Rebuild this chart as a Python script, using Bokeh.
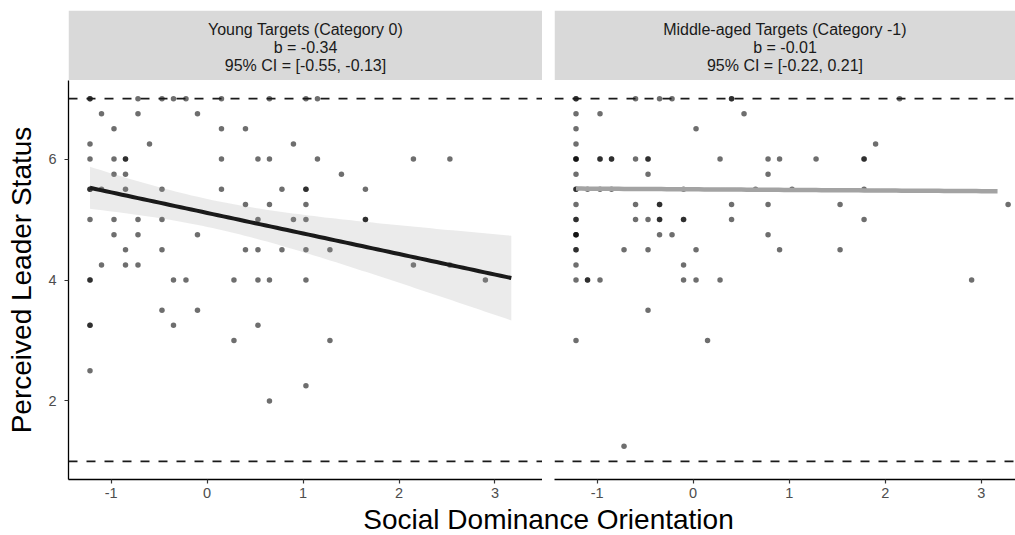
import numpy as np
from bokeh.plotting import figure
from bokeh.models import Range1d, FixedTicker, Span
from bokeh.layouts import row, column, Spacer
from bokeh.core.properties import value
from bokeh.embed import file_html
from bokeh.resources import INLINE

FONT = "Liberation Sans"

# ---- data ---------------------------------------------------------------
# Young targets (category 0): centred SDO score and perceived leader status
young_sdo = [
    -1.22, -1.22, -0.72, -0.47, -0.35, -0.22, 0.15, 0.65, 1.03, 1.15,
    -1.10, -0.72, -0.10,
    -0.97, 0.15, 0.40,
    -1.22, -0.60, 0.90,
    -1.22, -0.97, -0.85, -0.85, 0.15, 0.53, 0.65, 1.15, 2.15, 2.53,
    -0.97, -0.85, 1.40,
    -1.22, -1.22, -1.10, -0.85, -0.47, 0.15, 0.78, 1.03, 1.03, 1.65,
    0.40, 0.65, 1.03,
    -1.22, -0.97, -0.72, -0.47, 0.53, 0.90, 1.03, 1.65, 1.65,
    -0.97, -0.72, -0.10,
    -0.85, -0.47, 0.40, 0.53, 0.78, 1.03, 1.28,
    -1.10, -0.85, -0.72, 2.15, 2.53,
    -1.22, -1.22, -0.35, -0.22, 0.28, 0.53, 0.65, 1.03, 2.90,
    -0.47, -0.10,
    -1.22, -1.22, -0.35, 0.53,
    0.28, 1.28,
    -1.22,
    1.03,
    0.65,
]
young_status = [
    7, 7, 7, 7, 7, 7, 7, 7, 7, 7,
    6.75, 6.75, 6.75,
    6.5, 6.5, 6.5,
    6.25, 6.25, 6.25,
    6, 6, 6, 6, 6, 6, 6, 6, 6, 6,
    5.75, 5.75, 5.75,
    5.5, 5.5, 5.5, 5.5, 5.5, 5.5, 5.5, 5.5, 5.5, 5.5,
    5.25, 5.25, 5.25,
    5, 5, 5, 5, 5, 5, 5, 5, 5,
    4.75, 4.75, 4.75,
    4.5, 4.5, 4.5, 4.5, 4.5, 4.5, 4.5,
    4.25, 4.25, 4.25, 4.25, 4.25,
    4, 4, 4, 4, 4, 4, 4, 4, 4,
    3.5, 3.5,
    3.25, 3.25, 3.25, 3.25,
    3, 3,
    2.5,
    2.25,
    2,
]

# Middle-aged targets (category -1)
middle_sdo = [
    -1.22, -1.22, -0.60, -0.35, -0.22, 0.40, 0.40, 2.15,
    -1.22, -0.97, 0.53,
    -1.22, 0.03,
    -1.22, 1.90,
    -1.22, -1.22, -1.22, -0.97, -0.97, -0.85, -0.85, -0.60, -0.47, -0.47,
    0.28, 0.78, 0.90, 1.28, 1.78, 1.78,
    -1.22, -0.47, 0.78,
    -1.22, -1.22, -1.10, -0.97, -0.85, -0.10, 0.65, 1.03, 1.78,
    -1.22, -0.60, -0.35, -0.35, 0.40, 0.78, 1.53, 3.28,
    -1.22, -1.22, -0.60, -0.47, -0.35, -0.35, -0.10, -0.10, 0.40, 1.78,
    -1.22, -1.22, -1.22, -0.35, -0.22, 0.78,
    -1.22, -1.22, -0.72, -0.47, 0.03, 0.90, 1.53,
    -1.22, -0.10,
    -1.22, -1.10, -1.10, -0.97, -0.10, 0.03, 0.28, 2.90,
    -0.47,
    -1.22, 0.15,
    -0.72,
]
middle_status = [
    7, 7, 7, 7, 7, 7, 7, 7,
    6.75, 6.75, 6.75,
    6.5, 6.5,
    6.25, 6.25,
    6, 6, 6, 6, 6, 6, 6, 6, 6, 6,
    6, 6, 6, 6, 6, 6,
    5.75, 5.75, 5.75,
    5.5, 5.5, 5.5, 5.5, 5.5, 5.5, 5.5, 5.5, 5.5,
    5.25, 5.25, 5.25, 5.25, 5.25, 5.25, 5.25, 5.25,
    5, 5, 5, 5, 5, 5, 5, 5, 5, 5,
    4.75, 4.75, 4.75, 4.75, 4.75, 4.75,
    4.5, 4.5, 4.5, 4.5, 4.5, 4.5, 4.5,
    4.25, 4.25,
    4, 4, 4, 4, 4, 4, 4, 4,
    3.5,
    3, 3,
    1.25,
]

# simple-slope estimates per target group
panel_names = ["Young Targets (Category 0)", "Middle-aged Targets (Category -1)"]
slopes = [-0.34, -0.01]
slope_cis = [(-0.55, -0.13), (-0.22, 0.21)]
intercepts = [5.11, 5.50]          # predicted status at SDO = 0
fit_range = (-1.22, 3.17)          # SDO span of the fitted lines
young_se_mean = 0.1165             # SE of the predicted mean at the SDO mean
young_sdo_mean = 0.02
t_crit = 1.98

scale_limits = [1, 7]              # response-scale bounds
x_ticks = [-1, 0, 1, 2, 3]
x_tick_labels = ["-1", "0", "1", "2", "3"]
y_ticks = [2, 4, 6]
y_tick_labels = ["2", "4", "6"]

# ---- layout constants ---------------------------------------------------
X_START = -1.444
LEFT_X_END = 3.495
RIGHT_X_END = 3.357
Y_RANGE = (0.7, 7.3)
LEFT_W, RIGHT_W, GAP = 542, 461, 12
Y_AXIS_W = 68
STRIP_H, STRIP_TOP = 80, 10
MAIN_H, MAIN_BOTTOM = 425, 26
TITLE_H = 30


def strip(title_lines, width, left_border):
    s = figure(width=width, height=STRIP_H, x_range=Range1d(0, 1), y_range=Range1d(0, 1),
               x_axis_type=None, y_axis_type=None, output_backend="svg",
               toolbar_location=None, min_border_left=left_border, min_border_right=0,
               min_border_top=STRIP_TOP, min_border_bottom=0)
    s.outline_line_color = None
    s.border_fill_color = "white"
    s.quad(left=[0], right=[1], bottom=[0], top=[1], fill_color="#D9D9D9", line_color=None)
    centre, step = 0.478, 0.257
    ys = [centre + step, centre, centre - step]
    s.text(x=[0.5] * 3, y=ys, text=title_lines, text_align="center", text_baseline="middle",
           text_font=value(FONT), text_font_size="16px", text_color="#1A1A1A")
    return s


def panel(width, x_end, left_border, with_y_axis):
    p = figure(width=width, height=MAIN_H, x_range=Range1d(X_START, x_end),
               y_range=Range1d(*Y_RANGE), output_backend="svg", toolbar_location=None,
               y_axis_type="linear" if with_y_axis else None,
               min_border_left=left_border, min_border_right=0, min_border_top=0,
               min_border_bottom=MAIN_BOTTOM)
    p.outline_line_color = None
    p.grid.visible = False
    p.background_fill_color = "white"
    p.border_fill_color = "white"
    axes = [p.xaxis[0]] + ([p.yaxis[0]] if with_y_axis else [])
    for ax in axes:
        ax.axis_line_color = "black"
        ax.axis_line_width = 1.3
        ax.major_tick_line_color = "#333333"
        ax.major_tick_line_width = 1.2
        ax.major_tick_out = 4
        ax.major_tick_in = 0
        ax.minor_tick_line_color = None
        ax.major_label_text_font = FONT
        ax.major_label_text_font_size = "14.5px"
        ax.major_label_text_color = "#4D4D4D"
        ax.major_label_standoff = 4
    p.xaxis.ticker = FixedTicker(ticks=x_ticks)
    p.xaxis.major_label_overrides = dict(zip(x_ticks, x_tick_labels))
    if with_y_axis:
        p.yaxis.ticker = FixedTicker(ticks=y_ticks)
        p.yaxis.major_label_overrides = dict(zip(y_ticks, y_tick_labels))
        p.yaxis.major_label_standoff = 8
        p.yaxis.axis_label = "Perceived Leader Status"
        p.yaxis.axis_label_text_font = FONT
        p.yaxis.axis_label_text_font_size = "28px"
        p.yaxis.axis_label_text_font_style = "normal"
        p.yaxis.axis_label_text_color = "black"
        p.yaxis.axis_label_standoff = 8
    for lim in scale_limits:
        p.add_layout(Span(location=lim, dimension="width", line_color="#1A1A1A",
                          line_width=1.6, line_dash="9 9"))
    return p


def titles(i):
    lo, hi = slope_cis[i]
    return [panel_names[i], f"b = {slopes[i]:.2f}", f"95% CI = [{lo:.2f}, {hi:.2f}]"]


fx = np.linspace(fit_range[0], fit_range[1], 80)

# left panel: young targets, with confidence band
s_left = strip(titles(0), LEFT_W, Y_AXIS_W)
p_left = panel(LEFT_W, LEFT_X_END, Y_AXIS_W, True)
p_left.scatter(young_sdo, young_status, size=5.5, fill_color="black", fill_alpha=0.57,
               line_color=None)
se_b = (slope_cis[0][1] - slope_cis[0][0]) / (2 * t_crit)
fy = intercepts[0] + slopes[0] * fx
half = t_crit * np.sqrt(young_se_mean ** 2 + se_b ** 2 * (fx - young_sdo_mean) ** 2)
p_left.varea(x=fx, y1=fy - half, y2=fy + half, fill_color="#999999", fill_alpha=0.2)
p_left.line(fx, fy, line_color="#1A1A1A", line_width=4)

# right panel: middle-aged targets
s_right = strip(titles(1), RIGHT_W, 0)
p_right = panel(RIGHT_W, RIGHT_X_END, 0, False)
p_right.scatter(middle_sdo, middle_status, size=5.5, fill_color="black", fill_alpha=0.57,
                line_color=None)
p_right.line(fx, intercepts[1] + slopes[1] * fx, line_color="#A3A3A3", line_width=4.5)

# shared x-axis title, centred under both panels
total_w = LEFT_W + GAP + RIGHT_W
t = figure(width=total_w, height=TITLE_H, x_range=Range1d(0, total_w), y_range=Range1d(0, TITLE_H),
           x_axis_type=None, y_axis_type=None, output_backend="svg", toolbar_location=None,
           min_border=0)
t.outline_line_color = None
t.grid.visible = False
t.text(x=[548], y=[16], text=["Social Dominance Orientation"], text_align="center",
       text_baseline="middle", text_font=value(FONT), text_font_size="28px",
       text_color="black")

layout = column(
    row(column(s_left, p_left), Spacer(width=GAP), column(s_right, p_right)),
    t,
)

open("out.html", "w").write(file_html(layout, INLINE))
